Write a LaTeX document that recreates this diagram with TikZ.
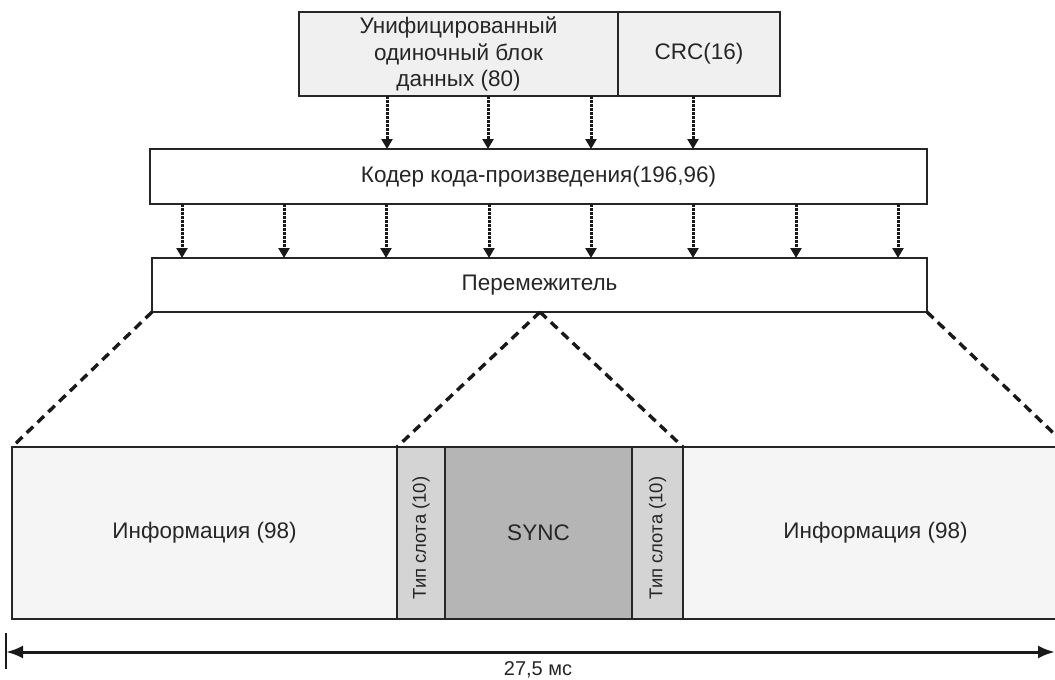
\documentclass[tikz,border=0pt]{standalone}
\usepackage{fontspec}
\setmainfont{Liberation Sans}
\usetikzlibrary{arrows.meta}
\tikzset{
  blk/.style={draw=black!85,line width=2.8pt,inner sep=0pt,outer sep=0pt,anchor=north west,align=center,text=black!85,font=\fontsize{22.5}{26.5}\selectfont},
  feed/.style={line width=3pt,dash pattern=on 2.5pt off 1.5pt,black!90,-{Triangle[length=10pt,width=11pt]}},
  fan/.style={line width=3.4pt,dash pattern=on 9pt off 6pt,black!90},
  slotlbl/.style={rotate=90,text=black!85,font=\fontsize{18.5}{19}\selectfont},
}
\begin{document}
\begin{tikzpicture}[x=1pt,y=-1pt]
\useasboundingbox (0,0) rectangle (1055,680);
% coded block
\node[blk,fill=black!6,minimum width=319,minimum height=84] (data) at (299,12) {Унифицированный\\одиночный блок\\данных (80)};
\node[blk,fill=black!6,minimum width=162,minimum height=84] (crc) at (618,12) {CRC(16)};
\node[blk,fill=white,minimum width=777,minimum height=55] (coder) at (150,149) {Кодер кода-произведения(196,96)};
\node[blk,fill=white,minimum width=775,minimum height=54] (ilv) at (152,258) {Перемежитель};
% burst
\node[blk,fill=black!4,minimum width=385,minimum height=172] (info1) at (12,447) {Информация (98)};
\node[blk,fill=black!17,minimum width=48,minimum height=172] (slot1) at (397,447) {};
\node[blk,fill=black!29,minimum width=187,minimum height=172] (sync) at (445,447) {SYNC};
\node[blk,fill=black!17,minimum width=51,minimum height=172] (slot2) at (632,447) {};
\node[blk,fill=black!4,minimum width=385,minimum height=172] (info2) at (683,447) {Информация (98)};
\node[slotlbl] (t1) at ([yshift=-5pt]slot1.center) {Тип слота (10)};
\node[slotlbl] (t2) at ([yshift=-5pt]slot2.center) {Тип слота (10)};
% arrows into the coder
\draw[feed] (data.south -| 387,0) -- (coder.north -| 387,0);
\draw[feed] (data.south -| 488,0) -- (coder.north -| 488,0);
\draw[feed] (data.south -| 591,0) -- (coder.north -| 591,0);
\draw[feed] (crc.south -| 693,0) -- (coder.north -| 693,0);
% arrows into the interleaver
\draw[feed] (coder.south -| 182,0) -- (ilv.north -| 182,0);
\draw[feed] (coder.south -| 284,0) -- (ilv.north -| 284,0);
\draw[feed] (coder.south -| 386,0) -- (ilv.north -| 386,0);
\draw[feed] (coder.south -| 489,0) -- (ilv.north -| 489,0);
\draw[feed] (coder.south -| 591,0) -- (ilv.north -| 591,0);
\draw[feed] (coder.south -| 693,0) -- (ilv.north -| 693,0);
\draw[feed] (coder.south -| 796,0) -- (ilv.north -| 796,0);
\draw[feed] (coder.south -| 898,0) -- (ilv.north -| 898,0);
% fan out
\coordinate (tip) at (540,312);
\draw[fan] (ilv.south west) -- (info1.north west);
\draw[fan] (ilv.south east) -- (info2.north east);
\draw[fan] (tip) -- (slot1.north west);
\draw[fan] (tip) -- (slot2.north east);
% duration
\coordinate (dl) at (6,652);
\coordinate (dr) at (1055,652);
\draw[line width=2pt,black!90] (6,633) -- (6,669);
\draw[line width=3pt,black!90,{Latex[length=17pt,width=13pt]}-{Latex[length=17pt,width=13pt]}] (dl) -- (dr);
\node[anchor=base,inner sep=0pt,text=black!85,font=\fontsize{20}{21}\selectfont] (dur) at (538,675) {27,5 мс};
\end{tikzpicture}
\end{document}
